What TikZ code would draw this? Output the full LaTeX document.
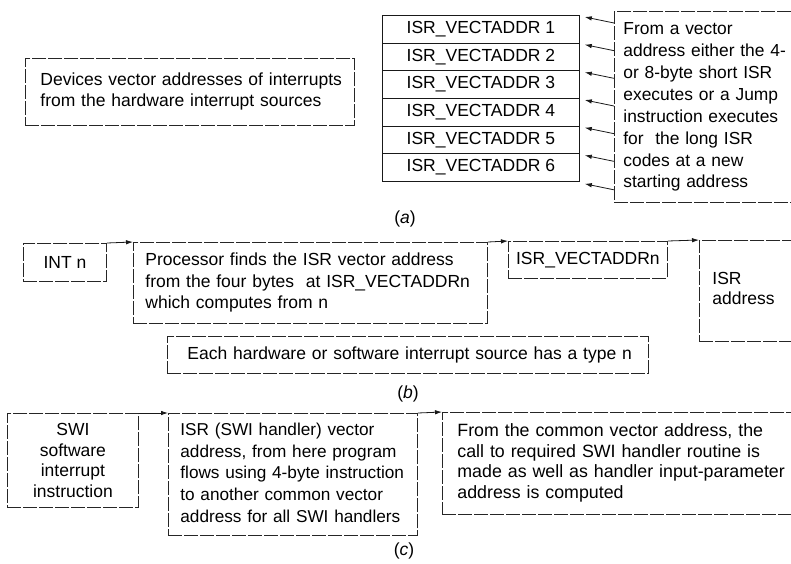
\documentclass[tikz,border=0pt]{standalone}
\usepackage{fontspec}
\setmainfont{Liberation Sans}
\usetikzlibrary{arrows.meta,calc}
\newcommand{\boxlines}[1]{\begin{tabular}{@{}l@{}}#1\end{tabular}}
\begin{document}
\begin{tikzpicture}[x=1pt,y=-1pt,
  font=\fontsize{17.5}{21.5}\selectfont,
  box/.style={draw=black!85, line width=0.8pt, dash pattern=on 14pt off 2pt, rectangle, inner sep=0pt, anchor=north west},
  cell/.style={draw=black!90, line width=0.8pt, rectangle, inner sep=0pt, anchor=north west, minimum width=197pt, minimum height=27.67pt},
  arr/.style={draw=black!90, line width=0.8pt, -{Latex[length=7pt,width=4.5pt]}},
  capt/.style={inner sep=0pt}
]
\useasboundingbox (0,0) rectangle (791,563);
\fill[white] (0,0) rectangle (791,563);
\clip (0,0) rectangle (791,563);

% ---------- (a)
\node[box, minimum width=329pt, minimum height=67pt, inner xsep=15pt, text width=299pt, align=left] (dev) at (25,58)
  {\boxlines{Devices vector addresses of interrupts\\from the hardware interrupt sources}};

\foreach \i in {1,...,6}
  \node[cell] (r\i) at (382,{15+(\i-1)*27.67}) {ISR\_VECTADDR \i};

\node[box, minimum width=185pt, minimum height=191pt, inner xsep=9pt, text width=167pt, align=left,
  font=\fontsize{17.4}{21.9}\selectfont] (note) at (614,11)
  {\boxlines{From a vector\\address either the 4-\\or 8-byte short ISR\\executes or a Jump\\instruction executes\\for\ \ the long ISR\\codes at a new\\starting address}};

\foreach \a [count=\k] in {r1.north east, r2.north east, r3.north east, r4.north east, r5.north east, r6.north east, r6.south east} {
  \coordinate (e\k) at ($(\a)+(5,2)$);
  \coordinate (s\k) at ($(\a)+(0,8)$);
  \draw[arr] (note.west |- s\k) -- (e\k);
}

\node[capt] (capa) at (405,219) {(\textit{a})};

% ---------- (b)
\node[box, minimum width=83pt, minimum height=38pt] (int) at (23,243) {INT n};
\node[box, minimum width=354pt, minimum height=81pt, inner xsep=12pt, text width=330pt, align=left] (proc) at (133,242)
  {\boxlines{Processor finds the ISR vector address\\from the four bytes\ \ at ISR\_VECTADDRn\\which computes from n}};
\node[box, minimum width=159pt, minimum height=37pt] (va) at (508,241) {ISR\_VECTADDRn};
\node[box, minimum width=110pt, minimum height=101pt, inner xsep=13pt, text width=84pt, align=left,
  font=\fontsize{17.5}{20}\selectfont] (isra) at (699,240) {\boxlines{ISR\\address}};
\node[box, minimum width=481pt, minimum height=37pt, inner xsep=20pt, text width=441pt, align=left] (each) at (167,336)
  {\boxlines{Each hardware or software interrupt source has a type n}};

\draw[arr] (int.north east) -- (proc.north west);
\draw[arr] (proc.north east) -- (va.north west);
\draw[arr] (va.north east) -- (isra.north west);

\node[capt] (capb) at (408,394) {(\textit{b})};

% ---------- (c)
\node[box, minimum width=131pt, minimum height=94pt, align=center,
  font=\fontsize{17.5}{20.5}\selectfont] (swi) at (7,413) {SWI\\software\\interrupt\\instruction};
\node[box, minimum width=249pt, minimum height=122pt, inner xsep=12pt, text width=225pt, align=left,
  font=\fontsize{17.2}{21.7}\selectfont] (hand) at (168,413)
  {\boxlines{ISR (SWI handler) vector\\address, from here program\\flows using 4-byte instruction\\to another common vector\\address for all SWI handlers}};
\node[box, minimum width=360pt, minimum height=102pt, inner xsep=10pt, text width=330pt, align=left,
  font=\fontsize{17.8}{20.5}\selectfont] (common) at (442,412)
  {\boxlines{From the common vector address, the\\call to required SWI handler routine is\\made as well as handler input-parameter\\address is computed}};

\draw[arr] (swi.north east) -- (hand.north west);
\draw[arr] (hand.north east) -- (common.north west);

\node[capt] (capc) at (404,551) {(\textit{c})};
\end{tikzpicture}
\end{document}
